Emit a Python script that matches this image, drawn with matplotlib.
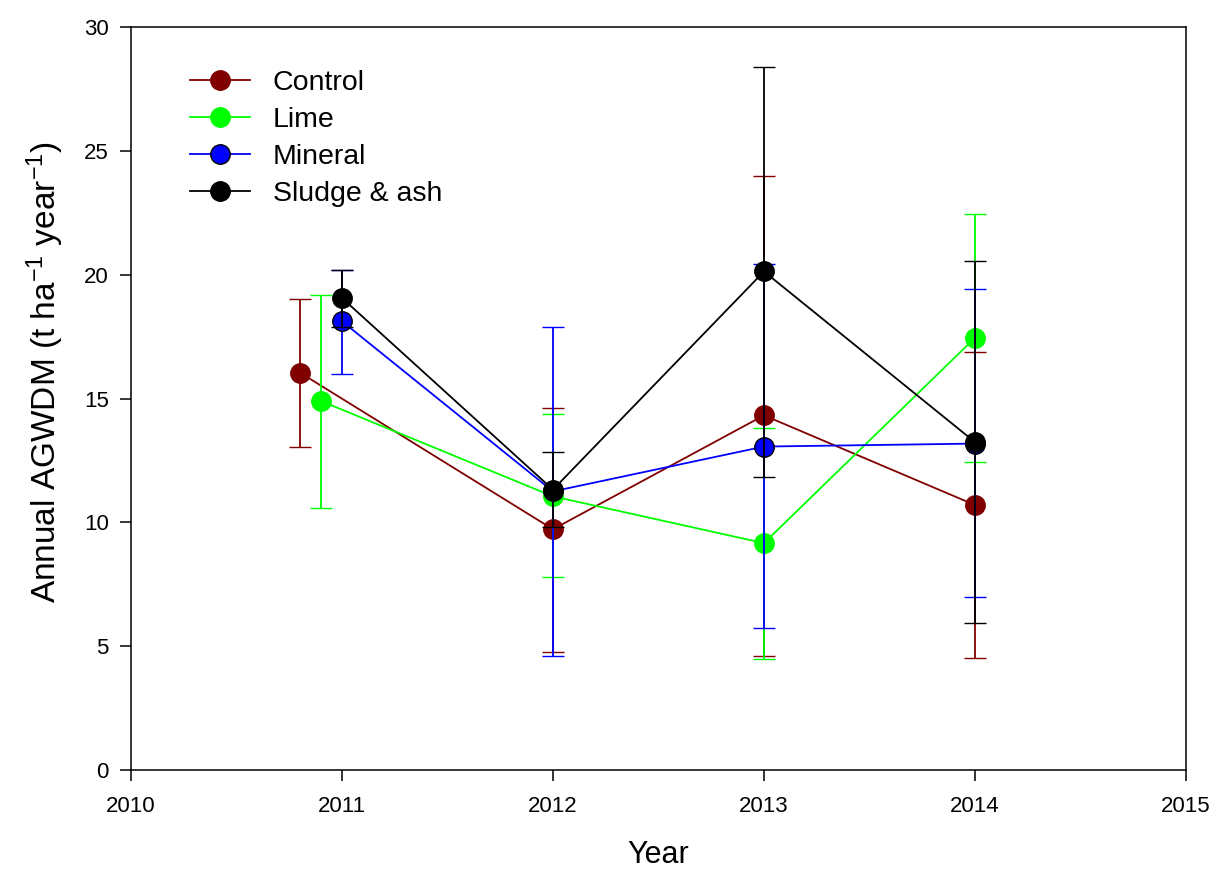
import numpy as np
import matplotlib
matplotlib.use("Agg")
import matplotlib.pyplot as plt
from matplotlib.lines import Line2D

plt.rcParams['font.family'] = ['Liberation Sans', 'DejaVu Sans']
plt.rcParams['mathtext.fontset'] = 'custom'
plt.rcParams['mathtext.rm'] = 'Liberation Sans'
plt.rcParams['mathtext.it'] = 'Liberation Sans'

# annual above-ground woody dry mass per treatment
names = ["Control", "Lime", "Mineral", "Sludge & ash"]
colors = ["#800000", "#00ff00", "#0000ff", "#000000"]

years_control = [2010.8, 2012, 2013, 2014]
control = [16.05, 9.72, 14.32, 10.70]
control_lo = [13.04, 4.77, 4.60, 4.52]
control_hi = [19.02, 14.60, 23.98, 16.87]

years_lime = [2010.9, 2012, 2013, 2014]
lime = [14.90, 11.05, 9.16, 17.45]
lime_lo = [10.58, 7.79, 4.48, 12.44]
lime_hi = [19.20, 14.37, 13.80, 22.45]

years_mineral = [2011, 2012, 2013, 2014]
mineral = [18.12, 11.25, 13.06, 13.18]
mineral_lo = [15.99, 4.60, 5.73, 6.98]
mineral_hi = [20.19, 17.88, 20.43, 19.42]

years_sludge = [2011, 2012, 2013, 2014]
sludge = [19.06, 11.32, 20.13, 13.24]
sludge_lo = [17.88, 9.81, 11.83, 5.93]
sludge_hi = [20.19, 12.84, 28.40, 20.55]

series = [
    (years_control, control, control_lo, control_hi),
    (years_lime, lime, lime_lo, lime_hi),
    (years_mineral, mineral, mineral_lo, mineral_hi),
    (years_sludge, sludge, sludge_lo, sludge_hi),
]

fig = plt.figure(figsize=(12.15, 8.73), dpi=100)
ax = fig.add_axes([0.1078, 0.118, 0.8683, 0.851])

handles = []
for i, (x, y, lo, hi) in enumerate(series):
    y = np.array(y)
    yerr = np.vstack([y - np.array(lo), np.array(hi) - y])
    edge = "black" if names[i] == "Mineral" else colors[i]
    ax.errorbar(x, y, yerr=yerr, color=colors[i], lw=1.3, elinewidth=1.3,
                capsize=8, capthick=1.3, marker="o", markersize=14,
                markerfacecolor=colors[i], markeredgecolor=edge,
                markeredgewidth=1.0, zorder=2 + i)
    handles.append(Line2D([], [], color=colors[i], lw=1.3, marker="o",
                          markersize=14, markerfacecolor=colors[i],
                          markeredgecolor=edge, markeredgewidth=1.0))

ax.set_xlim(2010, 2015)
ax.set_ylim(0, 30)
ax.set_xticks([2010, 2011, 2012, 2013, 2014, 2015])
ax.set_yticks([0, 5, 10, 15, 20, 25, 30])
ax.tick_params(direction="out", length=8, width=1.1, labelsize=16)
ax.tick_params(axis="x", pad=11)
ax.tick_params(axis="y", pad=8)
for s in ax.spines.values():
    s.set_linewidth(1.1)

ax.set_xlabel("Year", fontsize=22)
ax.set_ylabel(r"Annual AGWDM (t ha$^{-1}$ year$^{-1}$)", fontsize=24)
ax.xaxis.set_label_coords(0.5, -0.094)
ax.yaxis.set_label_coords(-0.062, 0.536)

ax.legend(handles=handles, labels=names, loc="upper left",
          bbox_to_anchor=(0.0455, 0.958), frameon=False, fontsize=20.5,
          handlelength=2.1, handletextpad=0.8, labelspacing=0.39,
          borderaxespad=0, numpoints=1)

fig.savefig("out.png", dpi=100)
